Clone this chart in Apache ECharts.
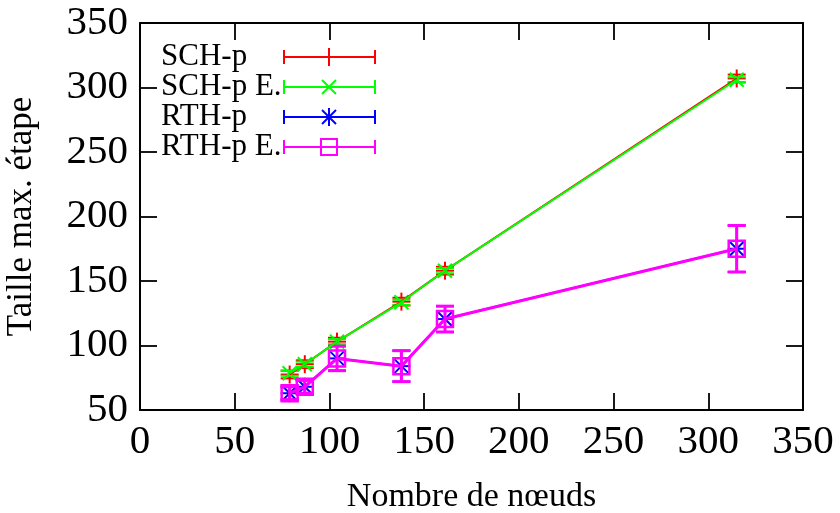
<!DOCTYPE html>
<html>
<head>
<meta charset="utf-8">
<script src="https://cdn.jsdelivr.net/npm/echarts@6/dist/echarts.min.js"></script>
<style>
html,body{margin:0;padding:0;background:#fff;}
#chart{width:840px;height:513px;}
</style>
</head>
<body>
<div id="chart"></div>
<script>
// ---- data ----
const nodes = [79, 87, 104, 138, 161, 315];
const xTicks = [0, 50, 100, 150, 200, 250, 300, 350];
const yTicks = [50, 100, 150, 200, 250, 300, 350];

const schP = [77.5, 85.5, 103, 134, 158, 307];
const schPErr = [3, 3, 3, 3, 3, 3];
const schPE = [78.5, 85.5, 103, 133.5, 158, 306];
const schPEErr = [2, 2, 2, 2, 2, 2];
const rthP = [63, 68, 90, 84, 120.5, 175];
const rthPErr = [5, 5, 9.5, 12, 10, 18];
const rthPE = [63, 68, 90, 84, 120.5, 175];
const rthPEErr = [5, 5, 9.5, 12, 10, 18];

const seriesNames = ['SCH-p', 'SCH-p E.', 'RTH-p', 'RTH-p E.'];
const seriesColors = ['#ff0000', '#00ff00', '#0000ff', '#ff00ff'];
const seriesMarkers = ['plus', 'cross', 'asterisk', 'square'];
const seriesValues = [schP, schPE, rthP, rthPE];
const seriesErrors = [schPErr, schPEErr, rthPErr, rthPEErr];
const seriesWidths = [2, 2, 2, 3];

const FONT = "'Liberation Serif', 'DejaVu Serif', serif";

function markerShapes(kind, cx, cy, color, lw) {
  const s = 9, d = 7;
  const st = {stroke: color, lineWidth: lw, fill: null};
  const ln = (x1, y1, x2, y2) => ({type: 'line', shape: {x1, y1, x2, y2}, style: st});
  const out = [];
  if (kind === 'plus' || kind === 'asterisk') {
    out.push(ln(cx - s, cy, cx + s, cy), ln(cx, cy - s, cx, cy + s));
  }
  if (kind === 'cross' || kind === 'asterisk') {
    out.push(ln(cx - d, cy - d, cx + d, cy + d), ln(cx - d, cy + d, cx + d, cy - d));
  }
  if (kind === 'square') {
    out.push({type: 'rect', shape: {x: cx - 8, y: cy - 8, width: 16, height: 16}, style: st});
  }
  return out;
}

const series = [];
seriesNames.forEach((name, i) => {
  const color = seriesColors[i];
  series.push({
    type: 'line',
    name: name,
    data: nodes.map((x, k) => [x, seriesValues[i][k]]),
    showSymbol: false,
    symbol: 'none',
    lineStyle: {color: color, width: seriesWidths[i]},
    animation: false,
    silent: true
  });
  series.push({
    type: 'custom',
    name: name + ' err',
    data: nodes.map((x, k) => [x, seriesValues[i][k], seriesValues[i][k] - seriesErrors[i][k], seriesValues[i][k] + seriesErrors[i][k]]),
    renderItem: function (params, api) {
      const c = api.coord([api.value(0), api.value(1)]);
      const lo = api.coord([api.value(0), api.value(2)]);
      const hi = api.coord([api.value(0), api.value(3)]);
      const lw = seriesWidths[i];
      const st = {stroke: color, lineWidth: lw};
      const w = 9;
      const children = [
        {type: 'line', shape: {x1: lo[0], y1: lo[1], x2: hi[0], y2: hi[1]}, style: st},
        {type: 'line', shape: {x1: lo[0] - w, y1: lo[1], x2: lo[0] + w, y2: lo[1]}, style: st},
        {type: 'line', shape: {x1: hi[0] - w, y1: hi[1], x2: hi[0] + w, y2: hi[1]}, style: st}
      ].concat(markerShapes(seriesMarkers[i], c[0], c[1], color, i === 3 ? 2.5 : 2));
      return {type: 'group', children: children};
    },
    animation: false,
    silent: true
  });
});

// legend (gnuplot-style, inside plot, top-left)
const legendChildren = [];
seriesNames.forEach((name, i) => {
  const y = 57 + i * 30;
  const color = seriesColors[i];
  const st = {stroke: color, lineWidth: 2};
  legendChildren.push({
    type: 'text', silent: true,
    style: {x: 161, y: y, text: name, font: '31px ' + FONT, fill: '#000', verticalAlign: 'middle', align: 'left'}
  });
  legendChildren.push({type: 'line', silent: true, shape: {x1: 284, y1: y, x2: 375, y2: y}, style: st});
  legendChildren.push({type: 'line', silent: true, shape: {x1: 284, y1: y - 7, x2: 284, y2: y + 7}, style: st});
  legendChildren.push({type: 'line', silent: true, shape: {x1: 375, y1: y - 7, x2: 375, y2: y + 7}, style: st});
  markerShapes(seriesMarkers[i], 329, y, color, 2).forEach(m => { m.silent = true; legendChildren.push(m); });
});

const axisLineStyle = {color: '#000', width: 2};
const tickStyle = {show: true, inside: true, length: 17, lineStyle: {color: '#000', width: 1.8}};

const chart = echarts.init(document.getElementById('chart'), null, {renderer: 'canvas'});
chart.setOption({
  backgroundColor: '#fff',
  animation: false,
  grid: {left: 140, right: 37, top: 23, bottom: 103, containLabel: false, outerBoundsMode: 'none'},
  xAxis: [{
    type: 'value', min: xTicks[0], max: xTicks[xTicks.length - 1], interval: 50,
    position: 'bottom',
    name: 'Nombre de nœuds', nameLocation: 'middle', nameGap: 70,
    nameTextStyle: {fontFamily: FONT, fontSize: 34, color: '#000'},
    axisLine: {show: true, onZero: false, lineStyle: axisLineStyle},
    axisTick: tickStyle,
    axisLabel: {fontFamily: FONT, fontSize: 41, color: '#000', margin: 12},
    splitLine: {show: false}
  }, {
    type: 'value', min: xTicks[0], max: xTicks[xTicks.length - 1], interval: 50,
    position: 'top',
    axisLine: {show: true, onZero: false, lineStyle: axisLineStyle},
    axisTick: tickStyle,
    axisLabel: {show: false},
    splitLine: {show: false}
  }],
  yAxis: [{
    type: 'value', min: yTicks[0], max: yTicks[yTicks.length - 1], interval: 50,
    position: 'left',
    name: 'Taille max. étape', nameLocation: 'middle', nameGap: 101,
    nameTextStyle: {fontFamily: FONT, fontSize: 35, color: '#000'},
    axisLine: {show: true, onZero: false, lineStyle: axisLineStyle},
    axisTick: tickStyle,
    axisLabel: {fontFamily: FONT, fontSize: 41, color: '#000', margin: 12},
    splitLine: {show: false}
  }, {
    type: 'value', min: yTicks[0], max: yTicks[yTicks.length - 1], interval: 50,
    position: 'right',
    axisLine: {show: true, onZero: false, lineStyle: axisLineStyle},
    axisTick: tickStyle,
    axisLabel: {show: false},
    splitLine: {show: false}
  }],
  series: series,
  graphic: legendChildren
});
</script>
</body>
</html>
